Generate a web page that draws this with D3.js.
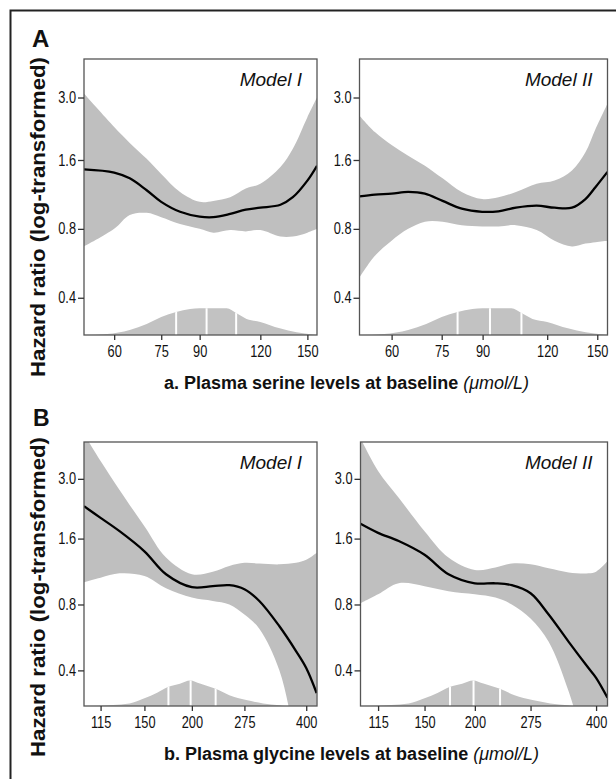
<!DOCTYPE html>
<html><head><meta charset="utf-8">
<script src="https://cdn.jsdelivr.net/npm/d3@7"></script>
<style>html,body{margin:0;padding:0;background:#fff}svg{display:block}</style>
</head><body>
<svg id="chart" width="616" height="779"></svg>
<script>
// ---------- data ----------
const yTicks = [0.4, 0.8, 1.6, 3.0];
const serineTicks = [60, 75, 90, 120, 150];
const glycineTicks = [115, 150, 200, 275, 400];

// Serine, Model I
const serineX1  = [52, 60, 64.6, 70, 75, 82, 90, 96, 104, 112, 120, 132, 140, 150, 157];
const serineHR1 = [1.455, 1.41, 1.33, 1.18, 1.05, 0.95, 0.905, 0.90, 0.93, 0.97, 0.99, 1.02, 1.10, 1.30, 1.51];
const serineUp1 = [3.12, 2.23, 1.90, 1.62, 1.39, 1.16, 1.05, 1.06, 1.10, 1.20, 1.26, 1.49, 1.79, 2.46, 3.0];
const serineLo1 = [0.67, 0.80, 0.92, 0.94, 0.90, 0.84, 0.80, 0.77, 0.79, 0.78, 0.79, 0.74, 0.74, 0.77, 0.80];
// Serine, Model II
const serineX2  = [52, 55.7, 60, 64.6, 69.6, 75.3, 82, 89.8, 96.6, 104.4, 114.5, 124, 134, 142.3, 148.9, 157];
const serineHR2 = [1.11, 1.13, 1.14, 1.16, 1.14, 1.06, 0.98, 0.95, 0.955, 0.99, 1.01, 0.99, 0.99, 1.08, 1.22, 1.42];
const serineUp2 = [2.50, 2.12, 1.86, 1.67, 1.51, 1.33, 1.16, 1.08, 1.10, 1.16, 1.26, 1.30, 1.44, 1.73, 2.19, 2.82];
const serineLo2 = [0.49, 0.61, 0.71, 0.80, 0.86, 0.86, 0.83, 0.82, 0.82, 0.83, 0.79, 0.71, 0.67, 0.69, 0.70, 0.71];
// Serine distribution (relative density) and quartiles
const serineDensX = [52, 58, 64.6, 70, 75, 80.5, 86, 90, 96, 102.3, 107, 112.4, 120, 131.6, 142.5, 154, 157];
const serineDens  = [0, 0.04, 0.19, 0.41, 0.67, 0.86, 0.97, 1, 1, 1, 0.82, 0.6, 0.49, 0.25, 0.1, 0.02, 0];
const serineQuart = [80.5, 93, 107];

// Glycine, Model I
const glycineX1  = [104, 115, 129, 150, 171, 200, 227, 251, 275, 301, 340, 376, 400, 426];
const glycineHR1 = [2.25, 1.99, 1.73, 1.40, 1.10, 0.96, 0.97, 0.98, 0.94, 0.83, 0.636, 0.49, 0.41, 0.315];
const glycineUp1 = [4.8, 3.62, 2.67, 1.82, 1.31, 1.10, 1.13, 1.20, 1.24, 1.23, 1.22, 1.24, 1.28, 1.38];
const glycineLo1 = [1.01, 1.06, 1.11, 1.08, 0.95, 0.86, 0.83, 0.80, 0.72, 0.62, 0.40, 0.19, 0.13, 0.09];
// Glycine, Model II
const glycineX2  = [104, 115, 129.4, 150, 172, 200, 225, 247, 275, 305, 342, 383, 400, 427];
const glycineHR2 = [1.87, 1.70, 1.56, 1.35, 1.10, 1.00, 1.00, 0.98, 0.90, 0.72, 0.54, 0.41, 0.37, 0.30];
const glycineUp2 = [4.6, 3.26, 2.46, 1.73, 1.31, 1.15, 1.18, 1.23, 1.22, 1.17, 1.12, 1.11, 1.13, 1.26];
const glycineLo2 = [0.81, 0.89, 1.00, 0.97, 0.92, 0.89, 0.86, 0.80, 0.69, 0.54, 0.32, 0.16, 0.13, 0.10];
// Glycine distribution and quartiles
const glycineDensX = [104, 124, 137, 150, 162, 173, 186, 198, 210, 230, 251, 278, 308, 340, 354];
const glycineDens  = [0, 0.04, 0.1, 0.3, 0.52, 0.74, 0.87, 1, 0.88, 0.68, 0.42, 0.23, 0.1, 0.03, 0];
const glycineQuart = [173.5, 198.5, 231];

const hrDomain = [0.275, 4.42];
const serineDomain = [52, 157];
const glycineDomain = [104, 427];

// ---------- drawing ----------
const svg = d3.select("#chart");
const GRAY = "#bfbfbf";
const TICKFONT = "'Liberation Sans Narrow','Arial Narrow','Liberation Sans',Arial,sans-serif";
const FONT = "'Liberation Sans',Arial,Helvetica,sans-serif";
const SX = 0.8;
let clipId = 0;

svg.append("path").attr("d", "M10.5,779V10.5H616")
  .attr("fill", "none").attr("stroke", "#222").attr("stroke-width", 2);

function zip(xs, a) { return xs.map((x, i) => ({x: x, v: a[i]})); }

function panel(c) {
  const x = d3.scaleLog().domain(c.xDomain).range([c.x0, c.x1]);
  const y = d3.scaleLog().domain(hrDomain).range([c.y1, c.y0]);
  const g = svg.append("g");
  const cid = "clip" + (clipId++);
  g.append("clipPath").attr("id", cid).append("rect")
    .attr("x", c.x0).attr("y", c.y0).attr("width", c.x1 - c.x0).attr("height", c.y1 - c.y0);
  const inner = g.append("g").attr("clip-path", `url(#${cid})`);

  const band = c.xs.map((xv, i) => ({x: xv, lo: c.lo[i], up: c.up[i]}));
  inner.append("path").datum(band)
    .attr("fill", GRAY)
    .attr("d", d3.area().x(d => x(d.x)).y0(d => y(d.lo)).y1(d => y(d.up))
      .curve(d3.curveCatmullRom.alpha(0.5)));

  // distribution at the bottom
  const dScale = d3.scaleLinear().domain([0, 1]).range([c.y1, c.y1 - 0.097 * (c.y1 - c.y0)]);
  const dens = zip(c.densX, c.dens);
  const dArea = d3.area().x(d => x(d.x)).y0(c.y1).y1(d => dScale(d.v)).curve(d3.curveMonotoneX);
  const did = "dclip" + (clipId++);
  g.append("clipPath").attr("id", did).append("path").datum(dens).attr("d", dArea);
  inner.append("path").datum(dens).attr("fill", "#c2c2c2").attr("d", dArea);
  inner.append("g").attr("clip-path", `url(#${did})`)
    .selectAll("line").data(c.quart).join("line")
    .attr("x1", d => x(d)).attr("x2", d => x(d))
    .attr("y1", c.y1).attr("y2", dScale(1.1))
    .attr("stroke", "#fff").attr("stroke-width", 2);

  inner.append("path").datum(zip(c.xs, c.hr))
    .attr("fill", "none").attr("stroke", "#000").attr("stroke-width", 2.3)
    .attr("d", d3.line().x(d => x(d.x)).y(d => y(d.v)).curve(d3.curveCatmullRom.alpha(0.5)));

  g.append("rect").attr("x", c.x0).attr("y", c.y0)
    .attr("width", c.x1 - c.x0).attr("height", c.y1 - c.y0)
    .attr("fill", "none").attr("stroke", "#555").attr("stroke-width", 1.3);

  const ya = g.append("g").attr("transform", `translate(${c.x0},0)`)
    .call(d3.axisLeft(y).tickValues(yTicks).tickFormat(d3.format(".1f")).tickSize(6).tickPadding(2));
  const xa = g.append("g").attr("transform", `translate(0,${c.y1})`)
    .call(d3.axisBottom(x).tickValues(c.xTicks).tickFormat(d3.format("d")).tickSize(5).tickPadding(6));
  [ya, xa].forEach(a => {
    a.select(".domain").remove();
    a.selectAll("line").attr("stroke", "#333").attr("stroke-width", 1.3);
    a.selectAll("text").attr("font-family", TICKFONT).attr("font-size", 16).attr("fill", "#111")
      .each(function () {
        const t = d3.select(this);
        const xv = +t.attr("x") || 0;
        t.attr("x", xv / SX).attr("transform", `scale(${SX},1)`);
      });
  });

  g.append("text").attr("x", c.x1 - 15).attr("y", c.y0 + 27)
    .attr("text-anchor", "end").attr("font-family", FONT).attr("font-style", "italic")
    .attr("font-size", 19).attr("fill", "#111").text(c.model);
}

panel({x0: 84, x1: 317, y0: 59, y1: 335, xDomain: serineDomain, xTicks: serineTicks,
  xs: serineX1, hr: serineHR1, up: serineUp1, lo: serineLo1,
  densX: serineDensX, dens: serineDens, quart: serineQuart, model: "Model I"});
panel({x0: 359.5, x1: 607.5, y0: 59, y1: 335, xDomain: serineDomain, xTicks: serineTicks,
  xs: serineX2, hr: serineHR2, up: serineUp2, lo: serineLo2,
  densX: serineDensX, dens: serineDens, quart: serineQuart, model: "Model II"});
panel({x0: 84, x1: 317, y0: 442, y1: 706, xDomain: glycineDomain, xTicks: glycineTicks,
  xs: glycineX1, hr: glycineHR1, up: glycineUp1, lo: glycineLo1,
  densX: glycineDensX, dens: glycineDens, quart: glycineQuart, model: "Model I"});
panel({x0: 360.5, x1: 607.5, y0: 442, y1: 706, xDomain: glycineDomain, xTicks: glycineTicks,
  xs: glycineX2, hr: glycineHR2, up: glycineUp2, lo: glycineLo2,
  densX: glycineDensX, dens: glycineDens, quart: glycineQuart, model: "Model II"});

// panel letters
svg.append("text").attr("x", 32).attr("y", 47).attr("font-family", FONT)
  .attr("font-weight", "bold").attr("font-size", 24).attr("fill", "#111").text("A");
svg.append("text").attr("x", 33).attr("y", 426).attr("font-family", FONT)
  .attr("font-weight", "bold").attr("font-size", 23).attr("fill", "#111").text("B");

// y-axis titles
[217, 597].forEach(cy => {
  svg.append("text").attr("transform", `translate(45,${cy}) rotate(-90)`)
    .attr("text-anchor", "middle").attr("font-family", FONT).attr("font-weight", "bold")
    .attr("font-size", 20).attr("fill", "#111")
    .attr("textLength", 320).attr("lengthAdjust", "spacingAndGlyphs")
    .text("Hazard ratio (log-transformed)");
});

// x-axis titles
[[389, "a. Plasma serine levels at baseline "], [760, "b. Plasma glycine levels at baseline "]].forEach(([yy, s]) => {
  const t = svg.append("text").attr("x", 164).attr("y", yy).attr("font-family", FONT)
    .attr("font-size", 18).attr("fill", "#111");
  t.append("tspan").attr("font-weight", "bold").text(s);
  t.append("tspan").attr("font-style", "italic").text("(μmol/L)");
});
</script>
</body></html>
